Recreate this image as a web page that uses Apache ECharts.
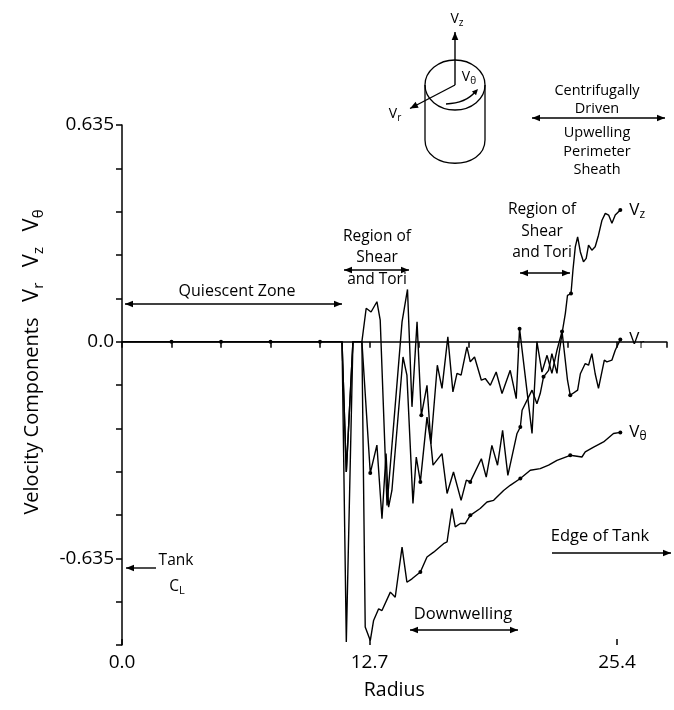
<!DOCTYPE html>
<html><head><meta charset="utf-8">
<script src="https://cdn.jsdelivr.net/npm/echarts@6/dist/echarts.min.js"></script>
<style>html,body{margin:0;padding:0;background:#fff}#c{width:674px;height:710px}</style>
</head><body><div id="c"></div>
<script>
// ---- data ----
const xLabelValues = [0, 12.7, 25.4];
const yLabelValues = [-0.635, 0, 0.635];

const vzX = [0,2.54,5.08,7.62,10.16,11.29,11.51,11.85,12.31,12.74,13.08,13.34,13.55,13.68,13.85,14.42,14.62,14.93,15.10,15.31,15.65,15.85,15.96,16.42,16.68,17.01,17.40,17.67,17.87,18.44,18.69,18.98,19.27,19.53,19.80,20.27,20.44,20.53,21.04,21.29,21.46,21.63,21.89,22.06,22.14,22.32,22.40,22.58,22.75,22.86,23.04,23.14,23.26,23.38,23.52,23.68,23.82,23.94,24.11,24.28,24.45,24.63,24.80,24.97,25.14,25.31,25.57];
const vzY = [0,0,0,0,0,0,-0.382,0,0,-0.385,-0.303,-0.519,-0.328,-0.485,-0.436,-0.045,-0.098,-0.474,-0.338,-0.411,-0.221,-0.299,-0.362,-0.328,-0.445,-0.382,-0.465,-0.406,-0.411,-0.343,-0.397,-0.304,-0.362,-0.260,-0.392,-0.269,-0.250,-0.201,-0.142,-0.182,-0.152,-0.103,-0.084,-0.035,-0.054,-0.093,-0.045,0.024,0.083,0.136,0.141,0.210,0.278,0.307,0.263,0.234,0.244,0.283,0.268,0.278,0.312,0.356,0.376,0.371,0.347,0.371,0.386];
const vzDots = [2.54,5.08,7.62,10.16,12.74,15.31,17.87,20.44,21.63,23.04,25.57];

const vrX = [0,2.54,5.08,7.62,10.16,11.29,11.51,11.85,12.31,12.53,12.78,13.08,13.25,13.60,14.37,14.65,14.88,15.14,15.36,15.65,15.85,16.18,16.42,16.72,16.98,17.19,17.40,17.70,17.87,18.09,18.44,18.64,18.90,19.20,19.50,19.92,20.23,20.40,21.04,21.29,21.55,21.81,22.06,22.32,22.58,22.86,23.00,23.38,23.52,23.77,23.94,24.11,24.28,24.45,24.75,24.88,25.14,25.31,25.57];
const vrY = [0,0,0,0,0,0,-0.88,0,0,0.098,0.087,0.117,0.063,-0.48,0.058,0.153,-0.191,0.058,-0.216,-0.128,-0.299,-0.069,-0.137,0.014,-0.147,-0.093,-0.098,-0.015,-0.059,-0.045,-0.113,-0.108,-0.128,-0.089,-0.152,-0.084,-0.167,0.038,-0.269,0.0,-0.089,-0.040,-0.093,-0.025,0.030,-0.113,-0.157,-0.142,-0.094,-0.064,-0.069,-0.035,-0.094,-0.137,-0.054,-0.059,-0.054,-0.025,0.006];
const vrDots = [15.36,20.40,22.58,23.00,25.57];

const vtX = [0,2.54,5.08,7.62,10.16,11.29,11.51,11.85,12.31,12.48,12.74,12.91,13.17,13.34,13.77,14.02,14.37,14.62,14.88,15.31,15.65,15.99,16.50,16.68,16.93,17.10,17.36,17.61,17.87,18.38,18.73,19.07,19.58,19.92,20.44,20.95,21.46,21.89,22.32,23.00,23.60,23.77,24.20,24.71,25.22,25.57];
const vtY = [0,0,0,0,0,0,-0.382,0,0,-0.836,-0.876,-0.817,-0.783,-0.788,-0.734,-0.749,-0.602,-0.705,-0.695,-0.675,-0.631,-0.617,-0.592,-0.587,-0.489,-0.543,-0.533,-0.533,-0.509,-0.489,-0.470,-0.465,-0.436,-0.421,-0.401,-0.377,-0.372,-0.362,-0.348,-0.333,-0.338,-0.323,-0.309,-0.294,-0.269,-0.266];
const vtDots = [15.31,17.87,20.44,23.00,25.57];

// ---- chart ----
const K = '#000';
const FF = 'Open Sans';
const zip = (xs, ys) => xs.map((x, i) => [x, ys[i]]);
const dotSize = dots => (v => dots.some(d => Math.abs(d - v[0]) < 1e-6) ? 4 : 0);

function mkSeries(name, xs, ys, dots, sub) {
  return {
    name, type: 'line', data: zip(xs, ys), symbol: 'circle', showSymbol: true, showAllSymbol: true,
    symbolSize: dotSize(dots), itemStyle: { color: K }, lineStyle: { color: K, width: 1.4 },
    emphasis: { disabled: true }, animation: false, z: 3,
    endLabel: { show: true, distance: 9, formatter: '{v|V}{s|' + sub + '}',
      rich: { v: { fontFamily: FF, fontSize: 17, color: K, lineHeight: 21 },
              s: { fontFamily: FF, fontSize: 12, color: K, lineHeight: 13, verticalAlign: 'bottom' } } }
  };
}

function head(x, y, ang, L = 8, W = 3.3) {
  const bx = x - L * Math.cos(ang), by = y - L * Math.sin(ang);
  const px = -Math.sin(ang) * W, py = Math.cos(ang) * W;
  return { type: 'polygon', silent: true, shape: { points: [[x, y], [bx + px, by + py], [bx - px, by - py]] }, style: { fill: K } };
}
function arrow(x1, y1, x2, y2, both) {
  const ang = Math.atan2(y2 - y1, x2 - x1);
  const els = [{ type: 'line', silent: true, shape: { x1, y1, x2, y2 }, style: { stroke: K, lineWidth: 1.4 } }, head(x2, y2, ang)];
  if (both) els.push(head(x1, y1, ang + Math.PI));
  return els;
}
function txt(x, y, text, size, rich) {
  return { type: 'text', silent: true, x, y, z: 10,
    style: { text, fill: K, fontFamily: FF, fontSize: size, align: 'center', verticalAlign: 'middle',
      textAlign: 'center', textVerticalAlign: 'middle', rich } };
}
const vr = s => ({ v: { fontFamily: FF, fontSize: s, fill: K, lineHeight: s + 4 },
                   s: { fontFamily: FF, fontSize: Math.round(s * 0.68), fill: K, lineHeight: Math.round(s * 0.7), verticalAlign: 'bottom' } });
const seg = (x1, y1, x2, y2) => ({ type: 'line', silent: true, shape: { x1, y1, x2, y2 }, style: { stroke: K, lineWidth: 1.3 } });

const graphics = [].concat(
  // y axis title
  [{ type: 'text', silent: true, x: 32, y: 362, rotation: Math.PI / 2,
     style: { text: '{n|Velocity Components   }{v|V}{s|r}{n|   }{v|V}{s|z}{n|   }{v|V}{s|θ}', align: 'center', verticalAlign: 'middle',
       textAlign: 'center', textVerticalAlign: 'middle',
       rich: { n: { fontFamily: FF, fontSize: 20, fill: K, lineHeight: 28 },
               v: { fontFamily: FF, fontSize: 22, fill: K, lineHeight: 28 },
               s: { fontFamily: FF, fontSize: 15, fill: K, lineHeight: 16, verticalAlign: 'bottom' } } } }],
  // Quiescent zone
  [txt(237, 291, 'Quiescent Zone', 16)], arrow(125, 304, 342, 304, true),
  // Region of shear 1
  [txt(377, 237, 'Region of', 15.5), txt(377, 258, 'Shear', 15.5), txt(377, 280, 'and Tori', 15.5)], arrow(344, 270, 409, 270, true),
  // Region of shear 2
  [txt(542, 210, 'Region of', 15.5), txt(542, 232, 'Shear', 15.5), txt(542, 253, 'and Tori', 15.5)], arrow(520, 273, 570, 273, true),
  // Centrifugally driven
  [txt(597, 91, 'Centrifugally', 14.5), txt(597, 109, 'Driven', 14.5), txt(597, 133, 'Upwelling', 14.5), txt(597, 152, 'Perimeter', 14.5), txt(597, 170, 'Sheath', 14.5)],
  arrow(532, 118, 665, 118, true),
  // Edge of tank
  [txt(600, 536, 'Edge of Tank', 16.5)], arrow(552, 553, 671, 553, false),
  // Downwelling
  [txt(463, 614, 'Downwelling', 16.5)], arrow(410, 630, 518, 630, true),
  // Tank CL
  [txt(176, 561, 'Tank', 15.5), txt(177, 587, '{v|C}{s|L}', 15.5, vr(15.5))], arrow(156, 568, 126, 568, false),
  // cylinder diagram
  [{ type: 'ellipse', silent: true, shape: { cx: 455, cy: 85, rx: 30, ry: 25 }, style: { fill: 'none', stroke: K, lineWidth: 1.3 } },
   seg(425, 85, 425, 140), seg(485, 85, 485, 140),
   { type: 'bezierCurve', silent: true, shape: { x1: 425, y1: 140, x2: 485, y2: 140, cpx1: 425, cpy1: 171, cpx2: 485, cpy2: 171 }, style: { fill: 'none', stroke: K, lineWidth: 1.3 } },
   { type: 'bezierCurve', silent: true, shape: { x1: 446, y1: 104, x2: 475, y2: 92, cpx1: 466, cpy1: 103 }, style: { fill: 'none', stroke: K, lineWidth: 1.4 } },
   head(478, 89, Math.atan2(-10, 9), 6, 2.8),
   txt(457, 19, '{v|V}{s|z}', 14, vr(14)), txt(395, 114, '{v|V}{s|r}', 14, vr(14)), txt(469, 77, '{v|V}{s|θ}', 14, vr(14))],
  arrow(455, 85, 455, 32, false), arrow(455, 85, 410, 108.5, false)
);

const chart = echarts.init(document.getElementById('c'), null, { renderer: 'canvas' });
const yStep = 0.127;
chart.setOption({
  animation: false,
  backgroundColor: '#fff',
  grid: { left: 122, right: 7.5, top: 125, bottom: 65, containLabel: false },
  xAxis: [{
    type: 'value', min: 0, max: 2.54 * 11, interval: 2.54,
    axisLine: { show: true, lineStyle: { color: K, width: 1.5 } },
    axisTick: { show: true, length: 6, lineStyle: { color: K, width: 1.5 } },
    axisLabel: { show: true, customValues: xLabelValues, formatter: v => v.toFixed(1), color: K, fontFamily: FF, fontSize: 19, margin: 8 },
    splitLine: { show: false },
    name: 'Radius', nameLocation: 'middle', nameGap: 35, nameTextStyle: { color: K, fontFamily: FF, fontSize: 19.5 }
  }, {
    type: 'value', min: 0, max: 2.54 * 11, position: 'bottom', gridIndex: 0,
    axisLine: { show: false }, axisLabel: { show: false }, splitLine: { show: false },
    axisTick: { show: true, inside: true, length: 6, customValues: xLabelValues, lineStyle: { color: K, width: 1.5 } }
  }],
  yAxis: {
    type: 'value', min: -7 * yStep, max: 5 * yStep, interval: yStep,
    axisLine: { show: true, lineStyle: { color: K, width: 1.5 } },
    axisTick: { show: true, length: 6, lineStyle: { color: K, width: 1.5 } },
    axisLabel: { show: true, customValues: yLabelValues, formatter: v => Math.abs(v) < 1e-9 ? '0.0' : v.toFixed(3), color: K, fontFamily: FF, fontSize: 19, margin: 8 },
    splitLine: { show: false }
  },
  series: [
    mkSeries('Vz', vzX, vzY, vzDots, 'z'),
    mkSeries('Vr', vrX, vrY, vrDots, 'r'),
    mkSeries('Vθ', vtX, vtY, vtDots, 'θ')
  ],
  graphic: { elements: graphics }
});
</script></body></html>
